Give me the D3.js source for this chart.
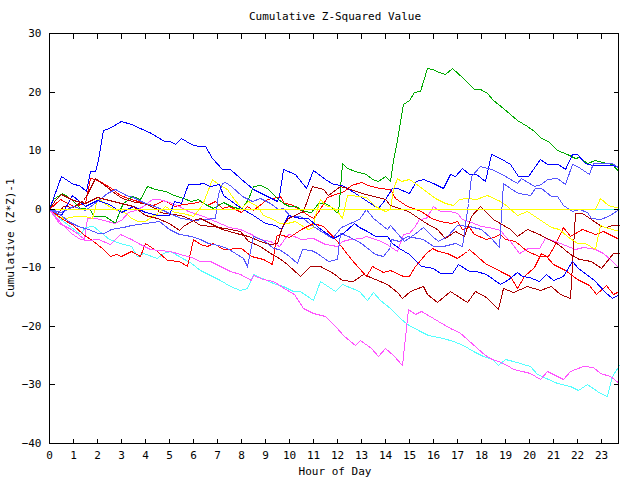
<!DOCTYPE html>
<html><head><meta charset="utf-8">
<script src="https://cdn.jsdelivr.net/npm/d3@7"></script>
<style>body{margin:0;background:#fff}svg text{font-family:"DejaVu Sans Mono",monospace;font-size:11px}</style>
</head><body><svg id="c" width="640" height="480"></svg>
<script>
const title = "Cumulative Z-Squared Value";
const xTitle = "Hour of Day";
const yTitle = "Cumulative (Z*Z)-1";
const xTicks = d3.range(0, 24);
const yTicks = [-40, -30, -20, -10, 0, 10, 20, 30];

const cyanZero = [[0,0],[23.75,0]];
const red1 = [[0,0],[0.45,1.6],[1.0,0.5],[1.5,1.0],[1.7,5.3],[1.9,5.0],[2.25,4.4],[2.6,3.6],[2.96,2.4],[3.3,1.9],[3.95,1.0],[4.35,0.7],[4.8,1.5],[5.2,0.5],[5.6,0.8],[6.0,1.0],[6.3,1.3],[6.6,0.7],[6.9,1.3],[7.2,0.2],[7.5,0.5],[8.0,-0.5],[8.25,0.44],[8.5,-0.2],[9.1,1.6],[9.35,1.9],[9.63,2.15],[9.8,1.0],[10.1,0.8],[10.4,0],[10.8,-1.0],[11.0,-1.5],[11.2,-0.5],[11.6,2.0],[11.9,2.5],[12.3,3.0],[12.6,4.1],[13.0,4.6],[13.3,4.1],[13.75,3.5],[14.2,3.3],[14.4,1.9],[14.9,0.44],[15.5,-0.4],[15.9,-1.5],[16.3,-2.1],[16.75,-2.4],[17.0,-2.1],[17.2,-3.5],[17.5,-3.2],[17.7,-4.4],[18.2,-5.2],[18.5,-4.8],[18.8,-4.4],[19.0,-5.2],[19.4,-5.5],[19.9,-7.2],[20.4,-8.1],[20.8,-8.0],[21.1,-6],[21.4,-3.2],[21.7,-4.7],[22.2,-3.5],[22.75,-4.4],[23.1,-3.8],[23.75,-5.2]];
const green1 = [[0,0],[0.15,1.6],[0.53,2.6],[0.75,2.2],[1.0,1.3],[1.3,0.2],[1.7,0],[1.85,-1.3],[2.33,-1.3],[2.75,-2.4],[2.96,0],[3.1,1],[3.44,2.15],[3.8,1.6],[4.07,3.9],[4.4,3.3],[4.83,3.0],[5.2,2.4],[5.6,1.9],[5.9,1.3],[6.2,1.6],[6.5,0.8],[6.85,0.2],[7.26,1.2],[7.6,0.4],[8.0,0],[8.3,1.6],[8.5,3.8],[8.8,4.1],[9.1,3.6],[9.3,2.7],[9.5,1.9],[9.75,0.9],[10.0,0.4],[10.3,0.4],[10.6,-0.4],[10.9,-0.6],[11.2,1.0],[11.5,1.0],[11.7,0.4],[11.9,-0.4],[12.05,-0.7],[12.2,7.85],[12.4,7.0],[12.75,6.4],[13.2,5.9],[13.45,5.0],[13.7,4.7],[14.0,5.6],[14.2,4.7],[14.35,8.4],[14.5,11.8],[14.77,17.8],[15.0,18.6],[15.2,20.0],[15.46,20.1],[15.74,24.07],[15.95,23.8],[16.23,23.3],[16.5,23.0],[16.78,24.07],[17.25,22.4],[17.7,20.4],[17.96,20.5],[18.24,19.8],[18.5,18.6],[18.93,17.2],[19.2,16.1],[19.5,15.2],[19.9,14.2],[20.2,13.3],[20.5,12.1],[20.8,11.5],[21.15,10.1],[21.57,9.3],[21.9,8.7],[22.1,8.9],[22.4,7.85],[22.75,8.4],[23.03,8.0],[23.45,7.6],[23.75,6.2]];
const blue1 = [[0,0],[0.5,5.5],[1.0,4.3],[1.25,4.0],[1.55,3.0],[1.7,6.4],[1.9,6.4],[2.05,8.4],[2.25,13.5],[2.5,13.8],[3.0,15],[3.4,14.4],[3.8,13.8],[4.25,12.9],[4.8,11.5],[5.05,11.6],[5.25,11.1],[5.5,12.1],[5.9,11.1],[6.2,10.7],[6.5,10.7],[6.8,8.7],[7.2,6.7],[7.55,6.7],[7.96,5.3],[8.5,3.3],[9.1,2.1],[9.5,1.3],[9.6,2.15],[9.76,6.8],[10.25,5.9],[10.7,3.6],[11.0,6.6],[11.5,5.0],[11.85,4.15],[12.2,4.0],[12.75,2.7],[13.25,1.3],[13.72,0.17],[14.0,1.6],[14.3,3.6],[14.5,3.6],[15.0,2.7],[15.3,4.7],[15.6,5.0],[16.0,4.4],[16.43,3.6],[16.7,5.85],[16.9,5.6],[17.2,7.0],[17.5,5.85],[17.8,5.85],[18.17,4.7],[18.4,9.27],[18.8,8.7],[19.2,7.6],[19.55,5.6],[19.97,5.6],[20.46,8.5],[20.74,7.6],[21.22,7.6],[21.5,6.8],[21.78,9.3],[22.0,9.3],[22.34,7.85],[22.62,7.4],[23.3,7.4],[23.75,7.3]];
const magenta1 = [[0,0],[0.4,-2.4],[0.9,-3.5],[1.2,-4.4],[1.45,-5.2],[1.6,-1.5],[1.9,-1.5],[2.3,-2],[2.7,-2.5],[3.0,-2],[3.3,-0.5],[3.6,-0.3],[3.9,0.5],[4.3,1.6],[4.6,1.6],[5.0,1.2],[5.4,0.5],[5.8,-0.4],[6.4,-1.3],[6.9,-2.1],[7.5,-3.2],[7.96,-3.5],[8.4,-4.4],[8.8,-5.2],[9.2,-5.5],[9.6,-6.4],[9.9,-4.5],[10.0,-4.4],[10.5,-5.2],[11.0,-5.0],[11.5,-6.0],[11.99,-6.4],[12.2,-5.5],[12.55,-5.2],[13.0,-5.0],[13.2,-4.7],[13.7,-5.3],[14.0,-5.8],[14.5,-7.2],[14.76,-4.4],[15.0,-4.2],[15.2,-3.2],[15.4,-1.8],[15.7,-1.5],[16.0,0.44],[16.3,-0.4],[16.7,-0.4],[16.99,-0.7],[17.2,-1.8],[17.6,-2.3],[18.0,-3.0],[18.5,-3.3],[18.8,-3.6],[19.0,-4.7],[19.2,-5.5],[19.6,-7.5],[19.97,-6.7],[20.4,-6.7],[20.67,-5.0],[21.1,-5.5],[21.5,-6.2],[21.9,-6.9],[22.25,-6.5],[22.75,-6.9],[23.1,-7.5],[23.45,-8.9],[23.75,-10.1]];
const cyan1 = [[0,0],[0.4,-1.5],[0.9,-3.2],[1.3,-4.4],[1.5,-3.2],[1.85,-3.0],[2.5,-5.2],[2.96,-5.8],[3.4,-6.4],[3.65,-8.1],[3.93,-7.5],[4.5,-8.4],[4.76,-7.5],[5.04,-7.2],[5.9,-9.2],[6.3,-10.4],[7.12,-12.1],[7.54,-13.2],[7.96,-13.8],[8.24,-13.5],[8.52,-11.2],[9.35,-12.6],[9.76,-13.2],[10.18,-14.1],[10.46,-14.1],[11.0,-15.5],[11.3,-12.4],[11.9,-14.1],[12.2,-12.9],[12.9,-14.1],[13.24,-15.5],[13.51,-14.3],[13.8,-15.5],[14.2,-16.9],[14.62,-18.6],[14.9,-19.75],[15.46,-20.9],[15.8,-21.5],[16.0,-21.75],[16.43,-22.0],[16.85,-22.6],[17.26,-23.2],[17.68,-24.3],[18.1,-25.2],[18.45,-25.7],[18.72,-26.6],[19.0,-25.7],[19.35,-26.0],[20.04,-26.9],[20.32,-28.3],[21.15,-29.7],[21.7,-30.3],[22.05,-30.9],[22.4,-30.0],[22.96,-31.4],[23.24,-32.0],[23.45,-28.6],[23.75,-26.6]];
const darkred1 = [[0,0],[0.3,-1],[0.6,0.5],[1.0,0.3],[1.4,1.5],[1.6,2.5],[1.9,5.3],[2.25,4.15],[2.8,2.5],[3.03,1.9],[3.6,1.2],[3.95,1.0],[4.5,0],[4.6,-0.5],[5.45,-1.0],[5.9,-1.8],[6.3,-2.7],[6.8,-3.0],[7.1,-3.2],[7.55,-3.5],[7.96,-3.8],[8.3,-5.5],[8.8,-6.4],[9.2,-7.5],[9.6,-8.4],[9.9,-9.5],[10.46,-11.5],[10.875,-9.8],[11.3,-9.8],[11.85,-10.9],[12.2,-12.1],[12.68,-12.4],[13.1,-11.2],[14.07,-12.9],[14.49,-14.3],[14.7,-15.2],[15.04,-14.1],[15.6,-13.2],[15.74,-14.6],[16.15,-16.0],[16.7,-14.1],[17.4,-15.9],[17.75,-14.1],[18.2,-15.0],[18.72,-17.1],[18.93,-13.5],[19.35,-14.3],[19.9,-13.2],[20.46,-13.8],[20.9,-13.2],[21.3,-14.5],[21.7,-15.2],[21.9,-0.7],[22.2,-0.7],[22.6,-1.8],[23.0,-3.0],[23.2,-3.2],[23.45,-2.7],[23.75,-2.7]];
const yellow2 = [[0,0],[0.4,-1.4],[0.65,-1.5],[1.1,-1.2],[1.5,-1.3],[1.8,-1.5],[1.98,1.6],[2.1,1.6],[2.4,0.7],[2.7,0],[3.2,-0.7],[3.4,-1.5],[3.72,-2.1],[4.0,-2.1],[4.28,-1.2],[4.55,-0.7],[4.83,0.4],[5.2,-0.5],[5.6,-0.8],[6.0,-1.3],[6.36,0.7],[6.78,5.0],[7.05,4.15],[7.4,3.3],[7.6,2.4],[8.0,0.2],[8.3,1.3],[8.65,0.4],[8.9,-1.0],[9.35,-1.8],[9.6,-2.4],[9.9,-2.4],[10.25,-2.1],[10.5,-2.8],[10.8,-3.5],[11.0,-3.2],[11.1,-1],[11.3,1.6],[11.5,0.7],[11.8,0.3],[12.0,-0.4],[12.2,-1.5],[12.4,2.4],[12.55,2.4],[13.2,2.0],[13.6,0.44],[14.0,-0.4],[14.2,0],[14.35,3.3],[14.5,5.3],[14.65,4.7],[15.0,5.0],[15.25,4.4],[15.6,3.3],[16.08,1.9],[16.5,1.0],[16.85,0.7],[17.1,1.6],[17.4,1.9],[17.8,1.6],[18.24,2.4],[18.8,1.3],[19.1,0.44],[19.5,-1.0],[19.9,-0.4],[20.4,-1.8],[20.9,-3.2],[21.25,-3.5],[21.57,-4.7],[22.0,-5.8],[22.35,-5.8],[22.75,-6.9],[22.96,-2.7],[23.17,-3.2],[23.75,-3.8]];
const lightblue1 = [[0,0],[0.5,-0.6],[1.0,0.5],[1.5,-0.3],[2.0,1.3],[2.4,2.6],[2.75,3.4],[3.2,2.4],[3.5,2.0],[4.0,1.0],[4.5,0.3],[5.0,-0.8],[5.5,-1.5],[6.0,-2.0],[6.5,-1.8],[6.9,-1.5],[7.05,2.5],[7.2,4.4],[7.35,4.5],[7.6,3.9],[8.05,2.15],[8.45,1.3],[8.8,1.9],[9.2,1.0],[9.55,-0.1],[9.75,0.2],[10.05,-1.3],[10.45,-1.3],[11.0,-3.0],[11.8,-5.0],[12.15,-3.2],[12.9,-1.8],[13.2,-0.1],[13.5,-1.5],[14.07,-3.5],[14.2,-2.7],[14.8,-5.5],[15.2,-4.4],[15.6,-3.2],[15.95,-4.7],[16.2,-5.5],[16.6,-4.7],[17.0,-2.7],[17.5,-3.0],[18.0,-3.5],[18.4,-5.0],[18.75,-6.5],[18.9,4.4],[19.2,3.5],[19.55,2.7],[20.05,2.4],[20.26,3.6],[20.5,3.6],[20.9,2.2],[21.15,2.15],[21.4,0.7],[21.78,-0.4],[22.1,-0.1],[22.4,-0.5],[22.6,-1.5],[22.96,-1.8],[23.3,-1.3],[23.75,-0.1]];
const red2 = [[0,0],[0.5,-1.5],[1.0,-2.8],[1.43,-4.4],[1.85,-5.5],[2.2,-6.7],[2.54,-8.1],[2.8,-7.8],[3.0,-8.1],[3.4,-7.2],[3.8,-8.1],[4.0,-5.8],[4.5,-7.2],[4.9,-8.7],[5.4,-9],[5.74,-9.8],[6.0,-5.2],[6.3,-6],[6.57,-6.4],[6.85,-5.8],[7.25,-6.9],[8.0,-6.7],[8.4,-8.1],[8.9,-8.5],[9.3,-9.5],[9.45,-4.7],[9.6,-4.4],[10.0,-4.8],[10.5,-3.5],[11.0,-2.4],[11.4,-3],[12.0,-5.5],[12.6,-8.5],[13.2,-11.5],[13.45,-9.8],[13.9,-10.8],[14.2,-10.4],[14.75,-11.5],[15.0,-11.5],[15.25,-9.8],[15.7,-7.5],[15.95,-6.7],[16.2,-7.2],[16.6,-7.5],[17.0,-8.4],[17.4,-7.2],[17.5,-6.9],[18.2,-9.5],[18.6,-10.1],[18.8,-10.65],[19.2,-11.5],[19.5,-13.5],[19.8,-11.5],[20.2,-10],[20.5,-7.5],[20.7,-8],[21.0,-9.5],[21.5,-10.5],[22.0,-12],[22.5,-13],[22.8,-14.5],[23.2,-13],[23.5,-14.5],[23.75,-14]];
const blue2 = [[0,0],[0.5,-1],[0.95,2.4],[1.5,0.5],[2,1.5],[2.5,0.8],[3,-0.5],[3.5,0.5],[4,-0.5],[4.55,-1],[5.0,-1],[5.2,1.3],[5.5,1.0],[5.8,4.15],[6.15,4.15],[6.43,4.4],[6.7,3.9],[7.1,4.15],[7.26,2.4],[7.7,1.0],[8.0,0.2],[8.5,-1],[9.0,-2.5],[9.4,-2.8],[9.68,-3.5],[9.97,-1.0],[10.45,-1.5],[10.8,-1.5],[11.2,-3.2],[11.85,-5.0],[12.26,-4.1],[12.7,-2.4],[12.9,-3.2],[13.25,-3.8],[13.6,-4.7],[14.1,-4.7],[14.3,-5.8],[14.6,-6.7],[15.0,-7.8],[15.5,-9.8],[16.0,-10.1],[16.3,-10.9],[16.8,-10.9],[17.05,-9.5],[17.5,-10.65],[17.8,-10.65],[18.2,-11.2],[18.8,-12.9],[19.1,-12.1],[19.5,-10.8],[19.7,-11.5],[20.0,-11.6],[20.4,-12.4],[20.7,-11.2],[21.0,-12.1],[21.4,-11.5],[21.78,-8.9],[22.05,-10.1],[22.7,-12.1],[23.17,-14.3],[23.45,-15.2],[23.75,-14.6]];
const magenta2 = [[0,0],[0.5,-2.5],[0.9,-4.1],[1.3,-5.2],[1.6,-5.4],[2.05,-5.2],[2.54,-6.1],[2.96,-4.4],[3.4,-5.2],[3.8,-6.1],[4.2,-6.9],[4.6,-7.0],[5.04,-7.2],[5.45,-7.8],[5.9,-8.3],[6.3,-8.9],[6.7,-9.0],[7.12,-9.8],[7.54,-10.65],[7.96,-11.2],[8.4,-12.1],[8.52,-11.3],[8.9,-12.0],[9.35,-12.4],[9.9,-13.8],[10.2,-14.6],[10.6,-16.9],[11.0,-17.8],[11.5,-18.3],[11.9,-20.0],[12.3,-21.75],[12.75,-23.2],[12.96,-22.4],[13.4,-23.7],[13.72,-25.2],[14.0,-23.7],[14.35,-24.9],[14.7,-26.6],[14.97,-17.2],[15.25,-18.0],[15.5,-17.5],[16.0,-18.6],[16.43,-19.75],[16.78,-20.6],[17.1,-21],[17.4,-22.3],[17.82,-23.7],[18.17,-24.9],[18.45,-25.7],[18.72,-26.0],[19.1,-26.7],[19.35,-27.4],[19.7,-27.7],[20.04,-28.0],[20.46,-29.1],[20.74,-27.7],[21.15,-28.6],[21.43,-29.1],[21.7,-27.7],[22.26,-26.9],[22.68,-27.1],[22.96,-28.0],[23.38,-28.6],[23.75,-29.7]];
const darkred2 = [[0,0],[0.25,1.5],[0.5,2.5],[1,1.5],[1.5,1.0],[2.0,2.0],[2.5,1.5],[3,1],[3.5,0.5],[4.0,-1],[4.5,-1.5],[5.0,-2.4],[5.4,-3.6],[5.6,-3],[6.0,-2],[6.3,-1.5],[6.7,-2.5],[7.2,-3.5],[7.8,-4.2],[8.3,-4.7],[8.8,-5.5],[9.2,-6],[9.5,-5.8],[9.7,-3.0],[9.97,-1.5],[10.6,-0.4],[10.95,3.86],[11.4,3.3],[11.64,2.4],[12.13,3.86],[12.4,3.6],[13.03,2.7],[14.0,1.6],[14.2,0.7],[14.97,-0.4],[15.7,-2.4],[16.15,-3.5],[16.5,-5.0],[16.9,-3.8],[17.3,-4.7],[17.6,-1.3],[17.96,0.44],[18.5,-1.8],[19.2,-3.5],[19.5,-4.7],[19.9,-3.5],[20.4,-4.4],[21.2,-6.1],[21.7,-7.8],[22.1,-8.5],[22.6,-9.0],[23.0,-10.1],[23.5,-7.5],[23.75,-7.5]];
const lightblue2 = [[0,0],[0.5,-1],[0.8,-2.1],[1.2,-3.0],[1.64,-3.5],[2.05,-4.1],[2.3,-4.1],[2.6,-3.5],[3.1,-3.2],[3.4,-2.7],[4.0,-2.4],[4.6,-2.1],[5.0,-3.5],[5.4,-4.4],[5.9,-4.7],[6.3,-5.2],[6.64,-5.8],[7.05,-6.2],[7.4,-6.7],[7.75,-7.5],[8.1,-8.4],[8.27,-9.8],[8.4,-6.4],[8.51,-4.7],[8.9,-5.3],[9.07,-5.8],[9.35,-6.7],[9.6,-6.9],[10.0,-8.0],[10.32,-9.2],[10.53,-6.9],[10.9,-7.0],[11.15,-7.5],[11.64,-8.9],[12.0,-8.5],[12.13,-4.1],[12.47,-4.7],[13.0,-5.8],[13.6,-7.8],[13.9,-8.1],[14.2,-6.5],[14.27,-5.2],[14.6,-5.5],[14.9,-4.7],[15.6,-5.2],[16.0,-6.4],[16.43,-6.4],[16.9,-5.8],[17.2,-6.4],[17.45,1.0],[17.6,5.6],[17.96,7.3],[18.4,6.7],[18.8,6.1],[19.5,4.4],[19.65,5.3],[20.2,3.86],[20.5,4.15],[20.74,5.0],[21.15,5.3],[21.5,4.15],[21.78,7.6],[22.0,7.3],[22.5,5.85],[22.68,7.85],[23.0,7.85],[23.45,7.85],[23.75,7.0]];
const yellow1 = [[0,0],[22.75,0],[22.96,1.9],[23.3,0.7],[23.75,0.1]];

const seriesList = [
  {pts: cyanZero, color: "#55ffff"},
  {pts: red1, color: "#ff0000"},
  {pts: green1, color: "#00aa00"},
  {pts: blue1, color: "#0000ff"},
  {pts: magenta1, color: "#ff55ff"},
  {pts: cyan1, color: "#55ffff"},
  {pts: darkred1, color: "#aa0000"},
  {pts: yellow2, color: "#ffff00"},
  {pts: lightblue1, color: "#5555ff"},
  {pts: red2, color: "#ff0000"},
  {pts: blue2, color: "#0000ff"},
  {pts: magenta2, color: "#ff55ff"},
  {pts: darkred2, color: "#aa0000"},
  {pts: lightblue2, color: "#5555ff"},
  {pts: yellow1, color: "#ffff00"}
];

const svg = d3.select("#c");
const PL = 49, PR = 619, PT = 33, PB = 443;
const x = d3.scaleLinear().domain([0, 23.75]).range([PL, PR]);
const y = d3.scaleLinear().domain([-40, 30]).range([PB, PT]);

const lineGen = d3.line()
  .x(d => Math.round(x(d[0])) + 0.5)
  .y(d => Math.round(y(d[1])) + 0.5);
svg.append("g").selectAll("path").data(seriesList).join("path")
  .attr("d", d => lineGen(d.pts)).attr("fill", "none")
  .attr("stroke", d => d.color).attr("stroke-width", 1)
  .attr("shape-rendering", "crispEdges");

svg.append("rect").attr("x", PL + 0.5).attr("y", PT + 0.5).attr("width", PR - PL - 1).attr("height", PB - PT)
  .attr("fill", "none").attr("stroke", "#000").attr("stroke-width", 1).attr("shape-rendering", "crispEdges");

const axG = svg.append("g").attr("shape-rendering", "crispEdges");
const axBottom = d3.axisBottom(x).tickValues(xTicks).tickSize(-5).tickPadding(8).tickFormat(d3.format("d"));
const gB = axG.append("g").attr("transform", `translate(0,${PB + 0.5})`).call(axBottom);
const axTop = d3.axisTop(x).tickValues(xTicks).tickSize(-5).tickFormat("");
const gT = axG.append("g").attr("transform", `translate(0,${PT + 0.5})`).call(axTop);
const axLeft = d3.axisLeft(y).tickValues(yTicks).tickSize(-5).tickPadding(8).tickFormat(d3.format("d"));
const gL = axG.append("g").attr("transform", `translate(${PL + 0.5},0)`).call(axLeft);
const axRight = d3.axisRight(y).tickValues(yTicks).tickSize(-5).tickFormat("");
const gR = axG.append("g").attr("transform", `translate(${PR - 0.5},0)`).call(axRight);
[gB, gT, gL, gR].forEach(g => {
  g.select(".domain").remove();
  g.selectAll("line").attr("stroke", "#000");
  g.selectAll("text").attr("fill", "#000").style("font-family", '"DejaVu Sans Mono",monospace').style("font-size", "11px");
});

svg.append("text").attr("x", 335).attr("y", 20).attr("text-anchor", "middle").text(title);
svg.append("text").attr("x", 335).attr("y", 475).attr("text-anchor", "middle").text(xTitle);
svg.append("text").attr("transform", "translate(14,238) rotate(-90)").attr("text-anchor", "middle").text(yTitle);
</script></body></html>
